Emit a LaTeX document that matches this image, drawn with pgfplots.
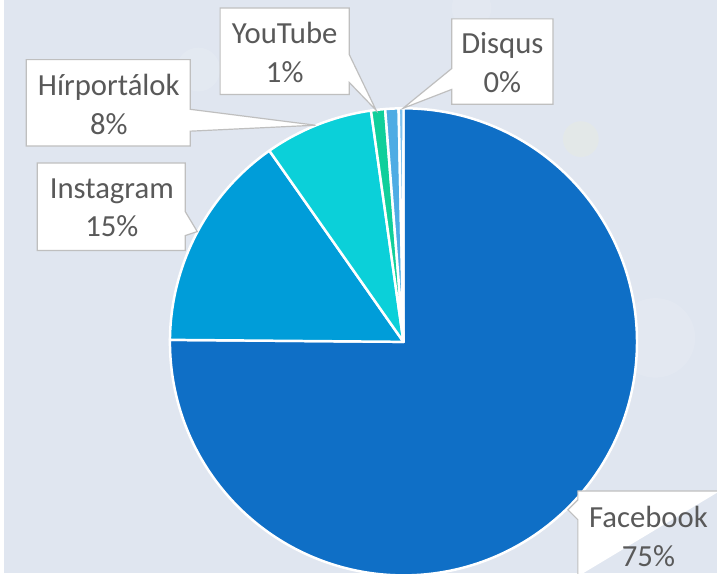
\documentclass[border=0pt]{standalone}
\usepackage{pgfplots}
\pgfplotsset{compat=1.18}
\usepackage{pgfplotstable}
\usepackage{fontspec}
\setmainfont{Carlito}

\definecolor{bg}{RGB}{224,230,240}
\definecolor{lbl}{HTML}{595959}
\definecolor{edge}{HTML}{BFBFBF}
\definecolor{slice0}{HTML}{0F6FC6}
\definecolor{slice1}{HTML}{009DD9}
\definecolor{slice2}{HTML}{0BD0D9}
\definecolor{slice3}{HTML}{10CF9B}
\definecolor{slice4}{HTML}{4EACE4}
\definecolor{slice5}{HTML}{7DC0EE}

% share of comments by platform (slices clockwise from 12 o'clock)
\pgfplotstableread[col sep=comma]{
name,value
Facebook,75.0
Instagram,15.1
Hirportalok,7.5
YouTube,0.97
Egyeb,0.92
Disqus,0.33
}\piedata

\begin{document}
\gdef\total{0}
\pgfplotstableforeachcolumnelement{value}\of\piedata\as\v{%
  \pgfmathsetmacro\t{\total+\v}\global\let\total\t}

\begin{tikzpicture}[
    callout/.style = {draw=edge, fill=white, line width=1.2bp, line join=miter},
    lab/.style     = {text=lbl, align=center, inner sep=0pt,
                      font=\fontsize{31}{39}\selectfont}
  ]
  \begin{axis}[
      name=ax,
      width=717bp, height=577bp, scale only axis,
      xmin=0, xmax=717, ymin=0, ymax=577,
      y dir=reverse,
      hide axis, clip=false]
    \addplot[draw=none] coordinates {(0,0) (717,577)};
    \pgfplotsextra{
      \fill[bg] (axis cs:0,0) rectangle (axis cs:717,577);
      % faint bokeh
      \fill[white, opacity=0.12] (axis cs:195,70) circle[radius=22bp];
      \fill[yellow!30, opacity=0.12] (axis cs:580,140) circle[radius=18bp];
      \fill[white, opacity=0.1] (axis cs:655,340) circle[radius=40bp];
      \fill[white, opacity=0.1] (axis cs:470,8) circle[radius=20bp];
      \begin{scope}
        \clip (axis cs:0,0) rectangle (axis cs:717,577);
        \xdef\angA{90}
        \foreach \i in {0,...,5}{
          \pgfplotstablegetelem{\i}{value}\of\piedata
          \pgfmathsetmacro\sweep{\pgfplotsretval/\total*360}
          \pgfmathsetmacro\angB{\angA-\sweep}
          \filldraw[fill=slice\i, draw=white, line width=2.5bp, line join=round]
            (axis cs:401.5,344) -- ++(\angA:235bp)
            arc[start angle=\angA, end angle=\angB, radius=235bp] -- cycle;
          \global\let\angA\angB
        }
      \end{scope}
      % callouts
      \draw[callout] (axis cs:217,8) -- (axis cs:347,8) -- (axis cs:347,55)
        -- (axis cs:374,111) -- (axis cs:347,83) -- (axis cs:347,95)
        -- (axis cs:217,95) -- cycle;
      \draw[callout] (axis cs:450,19) -- (axis cs:552,19) -- (axis cs:552,105)
        -- (axis cs:450,105) -- (axis cs:450,90) -- (axis cs:401,109)
        -- (axis cs:450,69) -- cycle;
      \draw[callout] (axis cs:22,60) -- (axis cs:187,60) -- (axis cs:187,110)
        -- (axis cs:313,126) -- (axis cs:187,132) -- (axis cs:187,147)
        -- (axis cs:22,147) -- cycle;
      \draw[callout] (axis cs:33,164) -- (axis cs:182,164) -- (axis cs:182,213)
        -- (axis cs:194,233) -- (axis cs:182,237) -- (axis cs:182,252)
        -- (axis cs:33,252) -- cycle;
      \draw[callout] (axis cs:720,494) -- (axis cs:577,494) -- (axis cs:577,503)
        -- (axis cs:567,513) -- (axis cs:577,523) -- (axis cs:577,580);
      \node[lab] at (axis cs:282,53) {YouTube\\1\%};
      \node[lab] at (axis cs:501,63) {Disqus\\0\%};
      \node[lab] at (axis cs:105,105) {Hírportálok\\8\%};
      \node[lab] at (axis cs:108,209) {Instagram\\15\%};
      \node[lab] at (axis cs:648,540) {Facebook\\75\%};
    }
  \end{axis}
  \pgfresetboundingbox
  \path[use as bounding box] (ax.south west) rectangle (ax.north east);
\end{tikzpicture}
\end{document}
